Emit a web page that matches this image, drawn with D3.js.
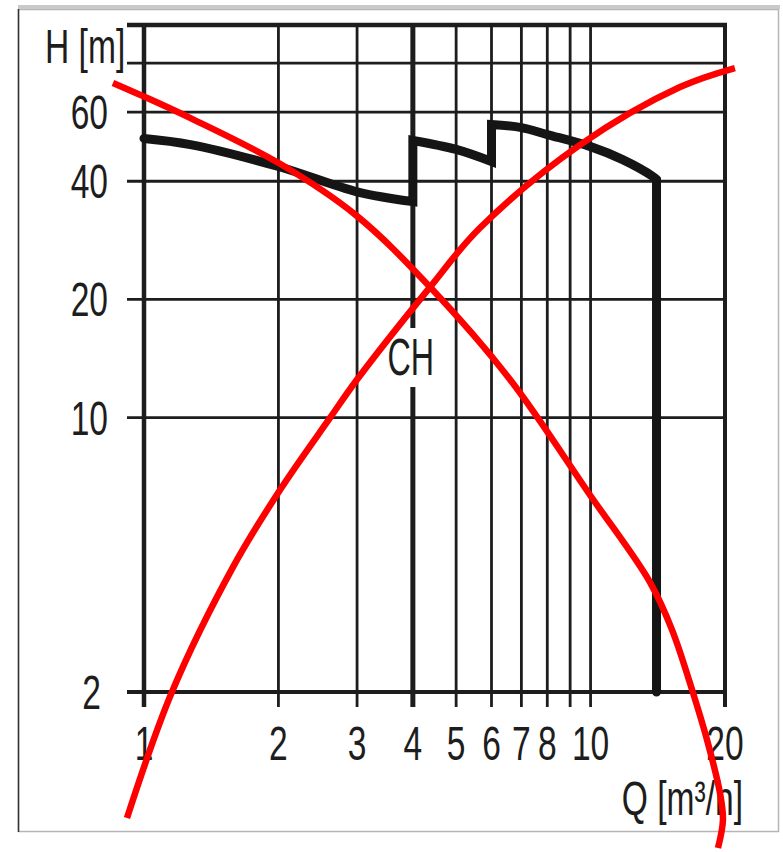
<!DOCTYPE html>
<html>
<head>
<meta charset="utf-8">
<script src="https://cdn.jsdelivr.net/npm/d3@7"></script>
<style>
  body { margin: 0; background: #fff; }
  text { font-family: "Liberation Sans", Arial, sans-serif; fill: #1d1d1d; }
</style>
</head>
<body>
<div id="wrapper"></div>
<script>
const qGrid = [1, 2, 3, 4, 5, 6, 7, 8, 9, 10, 20]
const qLabels = [1, 2, 3, 4, 5, 6, 7, 8, 10, 20]
const hGrid = [2, 10, 20, 40, 60, 80, 100]
const hLabels = [2, 10, 20, 40, 60]

// pump curve: three speed steps, then the drop at max flow
const pumpStep1 = [[1, 51.4], [1.27, 49.6], [2, 43.6], [3, 37.6], [4, 35.5]]
const pumpStep2 = [[4, 50.8], [5, 48.2], [6, 44.9]]
const pumpStep3 = [[6, 55.8], [7, 54.8], [8, 52.6], [10, 49], [11.8, 45.4], [13.8, 41.1], [14.05, 40.4]]
const pumpDrop = [[14.05, 40.4], [14.05, 2]]

// the two red strokes crossing the chart
const crossDown = [[0.852, 71.2], [0.995, 65.9], [1.268, 58.0], [2.016, 44.3], [3.0, 32.6], [4.37, 21.5],
  [6.6, 12.5], [9.97, 6.35], [13.58, 3.81], [15.22, 2.88], [16.96, 1.99], [18.23, 1.51],
  [19.49, 1.106], [19.79, 0.944], [19.29, 0.801]]
const crossUp = [[0.916, 0.955], [1.155, 2.0], [1.582, 4.16], [2.016, 6.54], [2.609, 9.98],
  [3.0, 12.5], [4.37, 21.5], [5.65, 30.4], [9.47, 49.5], [15.86, 69.5], [21.05, 77.7]]

const width = 783
const height = 852
const dark = "#1d1d1d"
const squeeze = 0.7

const svg = d3.select("#wrapper")
  .append("svg")
  .attr("width", width)
  .attr("height", height)

const x = d3.scaleLog().domain([1, 20]).range([144, 725])
const y = d3.scaleLog().domain([2, 100]).range([692, 25])

// picture frame
svg.append("rect")
  .attr("x", 18.5).attr("y", 9.5)
  .attr("width", 760).attr("height", 822)
  .attr("fill", "none")
  .attr("stroke", "#b5b5b5")
  .attr("stroke-width", 1.5)
svg.append("rect")
  .attr("x", 18).attr("y", 5)
  .attr("width", 762).attr("height", 4)
  .attr("fill", "#c9c9c9")
svg.append("line")
  .attr("x1", 18.5).attr("x2", 18.5)
  .attr("y1", 9).attr("y2", 832)
  .attr("stroke", "#333")
  .attr("stroke-width", 1.5)

// grid
const vWidth = q => q === 1 ? 4.5 : q === 4 ? 5 : q === 20 ? 4 : 2.8
const hWidth = h => h === 100 ? 4.5 : h === 2 ? 4 : 2.8

svg.append("g").selectAll("line")
  .data(hGrid)
  .enter().append("line")
  .attr("x1", 127)
  .attr("x2", x(20) + 2)
  .attr("y1", d => y(d))
  .attr("y2", d => y(d))
  .attr("stroke", dark)
  .attr("stroke-width", hWidth)

svg.append("g").selectAll("line")
  .data(qGrid)
  .enter().append("line")
  .attr("x1", d => x(d))
  .attr("x2", d => x(d))
  .attr("y1", y(100) - 2)
  .attr("y2", 707)
  .attr("stroke", dark)
  .attr("stroke-width", vWidth)

// CH label knocks out the grid line behind it
svg.append("rect")
  .attr("x", x(4) - 24).attr("y", 328)
  .attr("width", 50).attr("height", 59)
  .attr("fill", "#fff")
svg.append("text")
  .attr("transform", `translate(${x(4) - 2},375) scale(0.62,1)`)
  .attr("text-anchor", "middle")
  .style("font-size", "52px")
  .text("CH")

// tick labels
svg.append("g").selectAll("text")
  .data(qLabels)
  .enter().append("text")
  .attr("transform", d => `translate(${x(d)},760) scale(${squeeze},1)`)
  .attr("text-anchor", "middle")
  .style("font-size", "48px")
  .text(d => d)

svg.append("g").selectAll("text")
  .data(hLabels)
  .enter().append("text")
  .attr("transform", d => `translate(${d === 2 ? 101 : 108},${y(d) + 17}) scale(${squeeze},1)`)
  .attr("text-anchor", "end")
  .style("font-size", "48px")
  .text(d => d)

svg.append("text")
  .attr("transform", `translate(45,63) scale(${squeeze},1)`)
  .style("font-size", "48px")
  .text("H [m]")

svg.append("text")
  .attr("transform", `translate(743,815) scale(${squeeze},1)`)
  .attr("text-anchor", "end")
  .style("font-size", "48px")
  .text("Q [m³/h]")

// pump curve as one path so the step corners stay sharp
const smooth = d3.line()
  .x(d => x(d[0]))
  .y(d => y(d[1]))
  .curve(d3.curveCatmullRom.alpha(0.5))
const straight = d3.line()
  .x(d => x(d[0]))
  .y(d => y(d[1]))

const pumpPath = smooth(pumpStep1)
  + smooth(pumpStep2).replace(/^M/, "L")
  + smooth(pumpStep3).replace(/^M/, "L")
  + straight(pumpDrop).replace(/^M/, "L")

svg.append("path")
  .attr("d", pumpPath)
  .attr("fill", "none")
  .attr("stroke", "#151515")
  .attr("stroke-width", 9)
  .attr("stroke-linejoin", "miter")
  .attr("stroke-linecap", "round")

// red cross
svg.append("g").selectAll("path")
  .data([crossDown, crossUp])
  .enter().append("path")
  .attr("d", smooth)
  .attr("fill", "none")
  .attr("stroke", "#ff0000")
  .attr("stroke-width", 6.5)
</script>
</body>
</html>
